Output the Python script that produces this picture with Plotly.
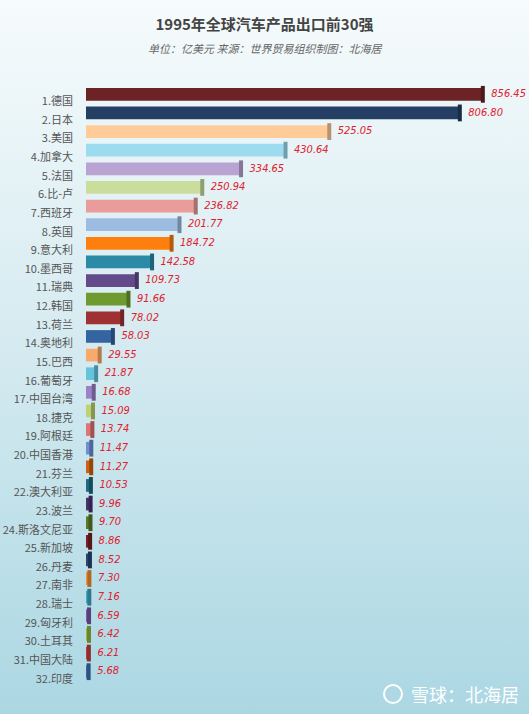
import base64
import plotly.graph_objects as go

countries = ["1.德国", "2.日本", "3.美国", "4.加拿大", "5.法国", "6.比-卢", "7.西班牙", "8.英国",
             "9.意大利", "10.墨西哥", "11.瑞典", "12.韩国", "13.荷兰", "14.奥地利", "15.巴西",
             "16.葡萄牙", "17.中国台湾", "18.捷克", "19.阿根廷", "20.中国香港", "21.芬兰",
             "22.澳大利亚", "23.波兰", "24.斯洛文尼亚", "25.新加坡", "26.丹麦", "27.南非",
             "28.瑞士", "29.匈牙利", "30.土耳其", "31.中国大陆", "32.印度"]
values = [856.45, 806.80, 525.05, 430.64, 334.65, 250.94, 236.82, 201.77, 184.72, 142.58,
          109.73, 91.66, 78.02, 58.03, 29.55, 21.87, 16.68, 15.09, 13.74, 11.47, 11.27,
          10.53, 9.96, 9.70, 8.86, 8.52, 7.30, 7.16, 6.59, 6.42, 6.21, 5.68]
value_labels = [f"{v:.2f}" for v in values]

bar_colors = ["#6b2326", "#243f63", "#ffcc99", "#9ddcee", "#b9a3d2", "#cadd9c", "#e99c9a", "#9dbce2",
              "#ff7f0e", "#2b8aa6", "#634a8a", "#6f9a30", "#a03133", "#3565a0", "#f8aa6c", "#66c3dd",
              "#9c82c9", "#bcd273", "#e07474", "#6d90d0", "#d0620f", "#1e6a80", "#4b3070", "#5b7a28",
              "#7a2122", "#284870", "#f09133", "#40a9c8", "#7b5ba8", "#93ba42", "#c24242", "#4172b1"]


def darker(c, f=0.72):
    r, g, b = int(c[1:3], 16), int(c[3:5], 16), int(c[5:7], 16)
    return "#%02x%02x%02x" % (int(r * f), int(g * f), int(b * f))


cap_colors = [darker(c) for c in bar_colors]

fig = go.Figure()
fig.add_trace(go.Bar(
    y=countries, x=values, orientation="h",
    marker=dict(color=bar_colors, line=dict(width=0)),
    hoverinfo="x+y", showlegend=False,
))
fig.add_trace(go.Scatter(
    y=countries, x=values, mode="markers+text",
    marker=dict(symbol="line-ns", size=12, line=dict(width=4, color=cap_colors)),
    text=value_labels, textposition="middle right",
    textfont=dict(color="#e0202c", size=11, style="italic",
                  family="DejaVu Sans Condensed, Liberation Sans Narrow, Arial Narrow, Liberation Sans, sans-serif"),
    cliponaxis=False, showlegend=False, hoverinfo="skip",
))

W, H = 529, 714
ml, mr, mt, mb = 86, 26, 85, 33
PW, PH = W - ml - mr, H - mt - mb


def px(x):
    return (x - ml) / PW


def py(y):
    return (H - mb - y) / PH


svg = f'''<svg xmlns="http://www.w3.org/2000/svg" width="{W}" height="{H}" preserveAspectRatio="none">
<defs><linearGradient id="g" x1="0" y1="0" x2="0" y2="1">
<stop offset="0" stop-color="#f6fbfc"/><stop offset="0.5" stop-color="#d4eaf0"/>
<stop offset="1" stop-color="#abd7e3"/></linearGradient></defs>
<rect width="{W}" height="{H}" fill="url(#g)"/></svg>'''
src = "data:image/svg+xml;base64," + base64.b64encode(svg.encode()).decode()

fig.update_layout(
    width=W, height=H,
    margin=dict(l=ml, r=mr, t=mt, b=mb, autoexpand=False),
    paper_bgcolor="#d4eaf0",
    plot_bgcolor="rgba(0,0,0,0)",
    bargap=0.32,
    images=[dict(source=src, xref="paper", yref="paper",
                 x=px(0), y=py(0), sizex=W / PW, sizey=H / PH,
                 xanchor="left", yanchor="top", sizing="stretch", layer="below")],
    title=dict(text="<b>1995年全球汽车产品出口前30强</b>", x=0.5, xref="container",
               y=1 - 25 / H, yref="container", yanchor="middle", xanchor="center",
               font=dict(size=15, color="#444", family="Noto Sans CJK SC")),
    xaxis=dict(range=[0, 900], visible=False, fixedrange=True, automargin=False),
    yaxis=dict(range=[len(countries) - 0.5, -0.5], showgrid=False, zeroline=False, showline=False,
               ticks="", automargin=False, ticklabelstandoff=12, ticklabelshift=-7,
               fixedrange=True,
               tickfont=dict(size=11, color="#555", family="Noto Sans CJK SC")),
    annotations=[
        dict(text="单位：亿美元 来源：世界贸易组织制图：北海居", xref="paper", x=px(W / 2),
             yref="paper", y=py(48), showarrow=False, xanchor="center", yanchor="middle",
             font=dict(size=11, color="#666", style="italic", family="Noto Sans CJK SC")),
        dict(text="雪球：北海居", xref="paper", x=px(521), yref="paper", y=py(694),
             xanchor="right", yanchor="middle", showarrow=False,
             font=dict(size=18, color="white", family="Noto Sans CJK SC")),
    ],
    shapes=[dict(type="circle", xref="paper", yref="paper",
                 x0=px(384), x1=px(402), y0=py(703), y1=py(685),
                 line=dict(color="white", width=2))],
)

fig.write_html("out.html", config={"displayModeBar": False},
               post_script="document.body.style.margin='0';")
